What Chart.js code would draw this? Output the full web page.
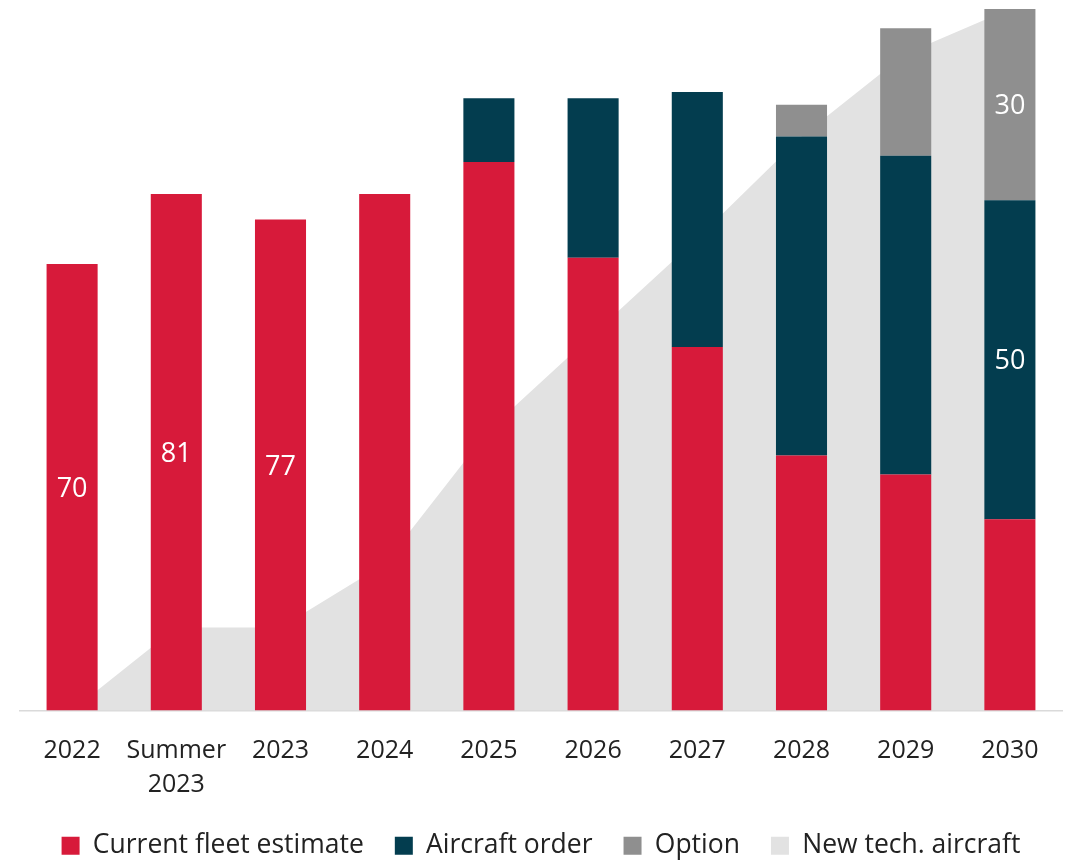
<!DOCTYPE html>
<html>
<head>
<meta charset="utf-8">
<script src="https://cdn.jsdelivr.net/npm/chart.js@4/dist/chart.umd.min.js"></script>
<style>
  html, body { margin: 0; padding: 0; background: #fff; }
  #wrap { width: 1071px; height: 862px; }
</style>
</head>
<body>
<div id="wrap"><canvas id="myChart"></canvas></div>
<script>
const labels = ["2022", ["Summer", "2023"], "2023", "2024", "2025", "2026", "2027", "2028", "2029", "2030"];

const fleet = [70, 81, 77, 81, 86, 71, 57, 40, 37, 30];
const orders = [0, 0, 0, 0, 10, 25, 40, 50, 50, 50];
const optionsData = [0, 0, 0, 0, 0, 0, 0, 5, 20, 30];
const newTech = [0, 13, 13, 23, 44, 59, 74, 90, 103, 110];

// which bars carry a value label
const fleetLabelAt = [0, 1, 2];
const ordersLabelAt = [9];
const optionsLabelAt = [9];

const font = "'Open Sans', sans-serif";

const barLabels = {
  id: "barLabels",
  afterDatasetsDraw(chart) {
    const ctx = chart.ctx;
    ctx.save();
    ctx.font = "27px " + font;
    ctx.fillStyle = "#fff";
    ctx.textAlign = "center";
    ctx.textBaseline = "middle";
    chart.data.datasets.forEach((ds, i) => {
      if (!ds.labelAt) return;
      const meta = chart.getDatasetMeta(i);
      ds.labelAt.forEach((idx) => {
        const el = meta.data[idx];
        const c = el.getCenterPoint();
        ctx.fillText(ds.data[idx], c.x, c.y + 2);
      });
    });
    ctx.restore();
  },
};

const data = {
  labels: labels,
  datasets: [
    {
      label: "Current fleet estimate",
      data: fleet,
      backgroundColor: "#D71A3A",
      labelAt: fleetLabelAt,
      order: 1,
    },
    {
      label: "Aircraft order",
      data: orders,
      backgroundColor: "#033D4F",
      labelAt: ordersLabelAt,
      order: 1,
    },
    {
      label: "Option",
      data: optionsData,
      backgroundColor: "#8F8F8F",
      labelAt: optionsLabelAt,
      order: 1,
    },
    {
      type: "line",
      label: "New tech. aircraft",
      data: newTech,
      stack: "area",
      backgroundColor: "#E2E2E2",
      borderColor: "#E2E2E2",
      borderWidth: 0,
      pointRadius: 0,
      tension: 0,
      fill: "origin",
      order: 2,
    },
  ],
};

const config = {
  type: "bar",
  data: data,
  options: {
    responsive: true,
    maintainAspectRatio: false,
    animation: false,
    categoryPercentage: 0.49,
    barPercentage: 1,
    layout: {
      padding: { top: 9, left: 20, right: 9, bottom: -7 },
    },
    scales: {
      x: {
        stacked: true,
        grid: { display: false, drawTicks: false },
        border: { display: true, color: "#DADADA", width: 1.5 },
        ticks: {
          color: "#222",
          font: { family: font, size: 25, lineHeight: 1.38 },
          padding: 23,
          maxRotation: 0,
          autoSkip: false,
        },
        afterFit(scale) {
          scale.height = 91;
        },
      },
      y: {
        stacked: true,
        display: false,
        min: 0,
        max: 110,
      },
    },
    plugins: {
      title: { display: false },
      tooltip: { enabled: false },
      legend: {
        position: "bottom",
        labels: {
          color: "#222",
          font: { family: font, size: 26.5 },
          boxWidth: 18,
          boxHeight: 18,
          padding: 31,
        },
      },
    },
  },
  plugins: [barLabels],
};

const myChart = new Chart(document.getElementById("myChart"), config);
</script>
</body>
</html>
